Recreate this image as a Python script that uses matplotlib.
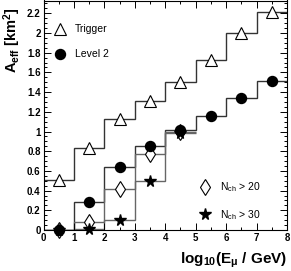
import matplotlib
matplotlib.use("Agg")
import matplotlib.pyplot as plt
from matplotlib.lines import Line2D
from matplotlib.ticker import MultipleLocator
import numpy as np

# ---- data ----
edges = [0, 1, 2, 3, 4, 5, 6, 7, 8]
trigger = [0.51, 0.83, 1.13, 1.31, 1.50, 1.73, 2.00, 2.21]
level2 = [0.00, 0.28, 0.64, 0.85, 1.02, 1.16, 1.34, 1.51]
edges_n = [0, 1, 2, 3, 4, 5]
nch20 = [0.00, 0.085, 0.42, 0.77, 1.00]
nch30 = [0.00, 0.01, 0.10, 0.50, 0.98]

labels_top = ["Trigger", "Level 2"]
labels_bot = [r"N$_{\mathregular{ch}}$ > 20", r"N$_{\mathregular{ch}}$ > 30"]

plt.rcParams['font.family'] = ['Liberation Sans', 'DejaVu Sans']
plt.rcParams['mathtext.fontset'] = 'custom'
plt.rcParams['mathtext.rm'] = 'Liberation Sans'
plt.rcParams['mathtext.it'] = 'Liberation Sans:italic'
plt.rcParams['mathtext.bf'] = 'Liberation Sans:bold'

fig = plt.figure(figsize=(2.91, 2.71), dpi=100)
ax = fig.add_axes([43.5/291, 1 - 230/271, (287 - 43.5)/291, 229.5/271])

e = np.array(edges, dtype=float)
en = np.array(edges_n, dtype=float)
cen = 0.5 * (e[:-1] + e[1:])
cenn = 0.5 * (en[:-1] + en[1:])

ax.stairs(trigger, e, baseline=None, color='#333333', lw=1.0)
ax.stairs(level2, e, baseline=None, color='#333333', lw=1.0)
ax.stairs(nch20, en, baseline=None, color='#666666', lw=1.0)
ax.stairs(nch30, en, baseline=None, color='#666666', lw=1.0)

ax.plot(cen, trigger, ls='none', marker='^', ms=8, mfc='white', mec='black', mew=0.8, clip_on=False, zorder=3)
ax.plot(cenn, nch20, ls='none', marker='d', ms=8, mfc='white', mec='black', mew=0.8, clip_on=False, zorder=3)
ax.plot(cenn, nch30, ls='none', marker='*', ms=8.5, color='black', clip_on=False, zorder=4)
ax.plot(cen, level2, ls='none', marker='o', ms=7.2, color='black', clip_on=False, zorder=5)

ax.set_xlim(0, 8)
ax.set_ylim(0, 2.33)
ax.xaxis.set_major_locator(MultipleLocator(1))
ax.xaxis.set_minor_locator(MultipleLocator(0.5))
ax.yaxis.set_major_locator(MultipleLocator(0.2))
ax.yaxis.set_minor_locator(MultipleLocator(0.05))
ax.set_yticks([0, 0.2, 0.4, 0.6, 0.8, 1, 1.2, 1.4, 1.6, 1.8, 2, 2.2])
ax.set_yticklabels(["0", "0.2", "0.4", "0.6", "0.8", "1", "1.2", "1.4", "1.6", "1.8", "2", "2.2"])
ax.tick_params(which='both', direction='in', top=True, right=True, width=0.7,
               labelsize=7, pad=2)
ax.tick_params(which='major', length=5)
ax.tick_params(which='minor', length=2.5)
for lab in ax.get_xticklabels() + ax.get_yticklabels():
    lab.set_fontweight('bold')
for s in ax.spines.values():
    s.set_linewidth(0.8)

ax.set_xlabel(r"$\mathbf{log_{10}(E_{\mu}\ /\ GeV)}$", fontsize=11, loc='right', labelpad=6)
ax.set_ylabel(r"$\mathbf{A_{eff}\ [km^{2}]}$", fontsize=10.5, loc='top')
ax.yaxis.set_label_coords(-0.085, 0.972)

h1 = [Line2D([], [], ls='none', marker='^', ms=8, mfc='white', mec='black', mew=0.8),
      Line2D([], [], ls='none', marker='o', ms=7.2, color='black')]
leg1 = ax.legend(h1, labels_top, loc='upper left', bbox_to_anchor=(0.03, 0.915),
                 frameon=False, fontsize=7.5, handlelength=1.0, handletextpad=0.9,
                 labelspacing=1.45, borderaxespad=0)
ax.add_artist(leg1)
h2 = [Line2D([], [], ls='none', marker='d', ms=8, mfc='white', mec='black', mew=0.8),
      Line2D([], [], ls='none', marker='*', ms=8.5, color='black')]
ax.legend(h2, labels_bot, loc='upper left', bbox_to_anchor=(0.625, 0.235),
          frameon=False, fontsize=7.5, handlelength=1.0, handletextpad=0.9,
          labelspacing=1.35, borderaxespad=0)

fig.savefig("out.png", dpi=100)
